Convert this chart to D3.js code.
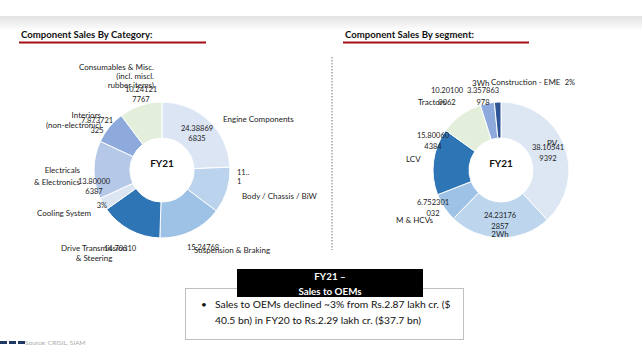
<!DOCTYPE html>
<html>
<head>
<meta charset="utf-8">
<script src="https://cdn.jsdelivr.net/npm/d3@7"></script>
<style>
  body { margin: 0; background: #fff; }
  svg { display: block; font-family: Lato, "Open Sans", sans-serif; }
</style>
</head>
<body>
<div id="chart"></div>
<script>
// data
var categories = ["Engine Components", "Body / Chassis / BiW", "Suspension & Braking",
  "Drive Transmission & Steering", "Cooling System", "Electricals & Electronics",
  "Interiors (non-electronic)", "Consumables & Misc."];
var categoryValues = [24.388696835, 11.0, 15.24768, 14.70310, 3.0, 13.800006387, 7.873721325, 10.241217767];
var categoryValueLabels = [["24.38869", "6835"], ["11..", "1"], ["15.24768"], ["14.70310"],
  ["3%"], ["13.80000", "6387"], ["7.873721", "325"], ["10.24121", "7767"]];

var segments = ["PV", "2Wh", "M & HCVs", "LCV", "Tractors", "3Wh", "Construction - EME"];
var segmentValues = [38.105419392, 24.231762857, 6.752301032, 15.800604384, 10.201000062, 3.357863978, 1.55];
var segmentValueLabels = [["38.10541", "9392"], ["24.23176", "2857"], ["6.752301", "032"],
  ["15.80060", "4384"], ["10.20100", "0062"], ["3.357863", "978"], ["2%"]];

// styles
var categoryColors = ["#dbe5f4", "#bcd3ee", "#9ec2e6", "#2e75b6", "#dce6f3", "#b6c8e8", "#8eaadc", "#e3efdb"];
var segmentColors = ["#dde7f4", "#bdd6ee", "#9dc2e6", "#2e75b6", "#e3efdb", "#8eaadc", "#2f5597"];

var svgWidth = 642, svgHeight = 361;
var svg = d3.select("#chart").append("svg")
  .attr("width", svgWidth)
  .attr("height", svgHeight);

// top grey shade
var grad = svg.append("defs").append("linearGradient")
  .attr("id", "shade").attr("x1", 0).attr("x2", 0).attr("y1", 0).attr("y2", 1);
grad.append("stop").attr("offset", "0%").attr("stop-color", "#e2e2e2");
grad.append("stop").attr("offset", "100%").attr("stop-color", "#ffffff");
svg.append("rect").attr("x", 0).attr("y", 16).attr("width", svgWidth).attr("height", 15)
  .attr("fill", "url(#shade)");

// titles
function title(x, y, w, txt) {
  svg.append("text").attr("x", x).attr("y", y)
    .attr("font-size", "9.6px").attr("font-weight", "bold").attr("fill", "#111")
    .text(txt);
  svg.append("rect").attr("x", x - 2).attr("y", y + 3.5).attr("width", w).attr("height", 2)
    .attr("fill", "#a50f15");
}
title(21, 38, 187, "Component Sales By Category:");
title(345, 38, 186, "Component Sales By segment:");

// dashed divider
svg.append("line").attr("x1", 332).attr("x2", 332).attr("y1", 57).attr("y2", 250)
  .attr("stroke", "#777").attr("stroke-width", 1).attr("stroke-dasharray", "1.5,1.5");

var pie = d3.pie().sort(null).value(d => d);
var arc = d3.arc().innerRadius(32).outerRadius(68);

function donut(cx, cy, values, colors) {
  var g = svg.append("g").attr("transform", `translate(${cx}, ${cy})`);
  g.selectAll("path")
    .data(pie(values))
    .enter()
    .append("path")
    .attr("d", arc)
    .attr("fill", (d, i) => colors[i])
    .attr("stroke", "#fff")
    .attr("stroke-width", 1);
  g.append("text").attr("y", -3).attr("text-anchor", "middle")
    .attr("font-size", "10px").attr("font-weight", "bold").attr("fill", "#111")
    .text("FY21");
  return g;
}

donut(162, 170, categoryValues, categoryColors);
donut(501, 170, segmentValues, segmentColors);

// text helper: lines with anchor
function label(x, y, lines, anchor, size, lh) {
  var t = svg.append("text").attr("x", x).attr("y", y)
    .attr("text-anchor", anchor || "start")
    .attr("font-size", (size || 8) + "px").attr("fill", "#222");
  lines.forEach(function(l, i) {
    t.append("tspan").attr("x", x).attr("dy", i == 0 ? 0 : (lh || 9.5)).text(l);
  });
}

// category names
label(154, 70, ["Consumables & Misc.", "(incl. miscl.", "rubber items)"], "end", 8, 9);
label(223, 122, ["Engine Components"]);
label(101, 118, ["Interiors", "(non-electronic)"], "end", 8, 10);
label(80, 173, ["Electricals", "& Electronics"], "end", 8, 11.5);
label(37, 216, ["Cooling System"]);
label(94, 251, ["Drive Transmission", "& Steering"], "middle", 8, 10);
label(194, 253, ["Suspension & Braking"]);
label(242, 199, ["Body / Chassis / BiW"]);

// category value labels
var catValuePos = [[197, 131, "middle"], [237, 175, "start"], [187, 250, "start"], [104, 251, "start"],
  [107, 208, "end"], [94, 184, "middle"], [97, 123, "middle"], [141, 92, "middle"]];
categoryValueLabels.forEach(function(l, i) {
  var p = catValuePos[i];
  label(p[0], p[1], l, p[2], 7.5, i == 1 ? 9 : 10);
});

// segment names
label(472, 86, ["3Wh"]);
label(491, 85, ["Construction - EME"]);
label(418, 105, ["Tractors"]);
label(406, 162, ["LCV"]);
label(547, 146, ["PV"]);
label(396, 223, ["M & HCVs"]);
label(500, 237, ["2Wh"], "middle");

// segment value labels
var segValuePos = [[548, 150, "middle"], [500, 218, "middle"], [433, 205, "middle"],
  [433, 138, "middle"], [447, 93, "middle"], [483, 93, "middle"], [575, 85, "end"]];
segmentValueLabels.forEach(function(l, i) {
  var p = segValuePos[i];
  label(p[0], p[1], l, p[2], 7.5, i == 4 ? 12 : (i == 5 ? 12 : 10.5));
});

// bottom text box
svg.append("rect").attr("x", 185.5).attr("y", 288.5).attr("width", 278).attr("height", 51)
  .attr("fill", "#fff").attr("stroke", "#bfbfbf");
svg.append("rect").attr("x", 237).attr("y", 269).attr("width", 186).attr("height", 28)
  .attr("fill", "#000");
svg.append("text").attr("x", 330).attr("y", 280).attr("text-anchor", "middle")
  .attr("font-size", "9.8px").attr("font-weight", "bold").attr("fill", "#fff")
  .selectAll("tspan").data(["FY21 –", "Sales to OEMs"]).enter().append("tspan")
  .attr("x", 330).attr("dy", (d, i) => i == 0 ? 0 : 15).text(d => d);
svg.append("text").attr("x", 201).attr("y", 308).attr("font-size", "10px").attr("fill", "#111").text("•");
svg.append("text").attr("x", 215).attr("y", 308).attr("font-size", "10.3px").attr("fill", "#111")
  .selectAll("tspan")
  .data(["Sales to OEMs declined ~3% from Rs.2.87 lakh cr. ($", "40.5 bn) in FY20 to Rs.2.29 lakh cr. ($37.7 bn)"])
  .enter().append("tspan")
  .attr("x", 215).attr("dy", (d, i) => i == 0 ? 0 : 16).text(d => d);

// source + logo fragment
[0, 9, 18].forEach(function(x) {
  svg.append("rect").attr("x", x).attr("y", 341).attr("width", 7).attr("height", 3).attr("fill", "#1f3864");
});
svg.append("text").attr("x", 25).attr("y", 345).attr("font-size", "6.5px").attr("fill", "#aaa")
  .text("Source: CRISIL, SIAM");
</script>
</body>
</html>
